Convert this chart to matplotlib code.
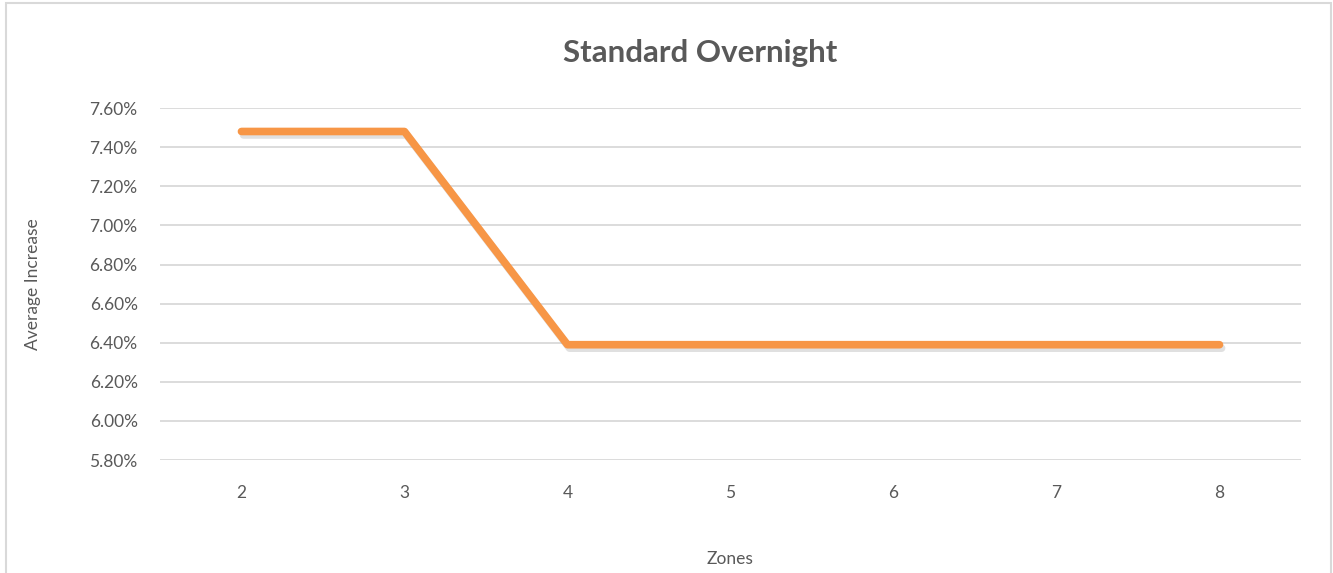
import matplotlib
matplotlib.use("Agg")
import matplotlib.pyplot as plt
import matplotlib.patheffects as pe
from matplotlib.patches import Rectangle
from matplotlib.ticker import FuncFormatter

plt.rcParams["font.family"] = ["Lato", "DejaVu Sans"]

# data
zones = ["2", "3", "4", "5", "6", "7", "8"]
avg_increase = [7.48, 7.48, 6.39, 6.39, 6.39, 6.39, 6.39]
y_ticks = [5.8, 6.0, 6.2, 6.4, 6.6, 6.8, 7.0, 7.2, 7.4, 7.6]

text_col = "#595959"
grid_col = "#D9D9D9"

fig = plt.figure(figsize=(13.33, 5.73), dpi=100)
# outer chart border
fig.patches.append(Rectangle((6 / 1333, -0.05), 1325 / 1333, 1.0 - 3 / 573 + 0.05,
                             transform=fig.transFigure, fill=False,
                             edgecolor="#D9D9D9", linewidth=1.5))

ax = fig.add_axes([0.12, 0.197, 0.856, 0.6145])

x = range(len(zones))
ax.plot(x, avg_increase, color="#F79646", linewidth=5.5, solid_capstyle="round",
        solid_joinstyle="round", zorder=3,
        path_effects=[pe.SimpleLineShadow(offset=(1.5, -2.5), shadow_color="#999999", alpha=0.3),
                      pe.Normal()])

ax.set_xlim(-0.5, len(zones) - 0.5)
ax.set_ylim(5.8, 7.6)
ax.set_xticks(list(x))
ax.set_xticklabels(zones)
ax.set_yticks(y_ticks)
ax.yaxis.set_major_formatter(FuncFormatter(lambda v, p: f"{v:.2f}%"))

ax.grid(axis="y", color=grid_col, linewidth=1.3)
ax.set_axisbelow(True)
for s in ax.spines.values():
    s.set_visible(False)
ax.tick_params(length=0, labelsize=12.5, colors=text_col, pad=16)
ax.tick_params(axis="x", pad=18)

ax.set_xlabel("Zones", fontsize=12.5, color=text_col, labelpad=36)
ax.set_ylabel("Average Increase", fontsize=12.5, color=text_col, labelpad=35)

fig.text(0.525, 1 - 53 / 573, "Standard Overnight", ha="center", va="center",
         fontsize=22.5, fontweight="bold", color=text_col)

fig.savefig("out.png", dpi=100)
